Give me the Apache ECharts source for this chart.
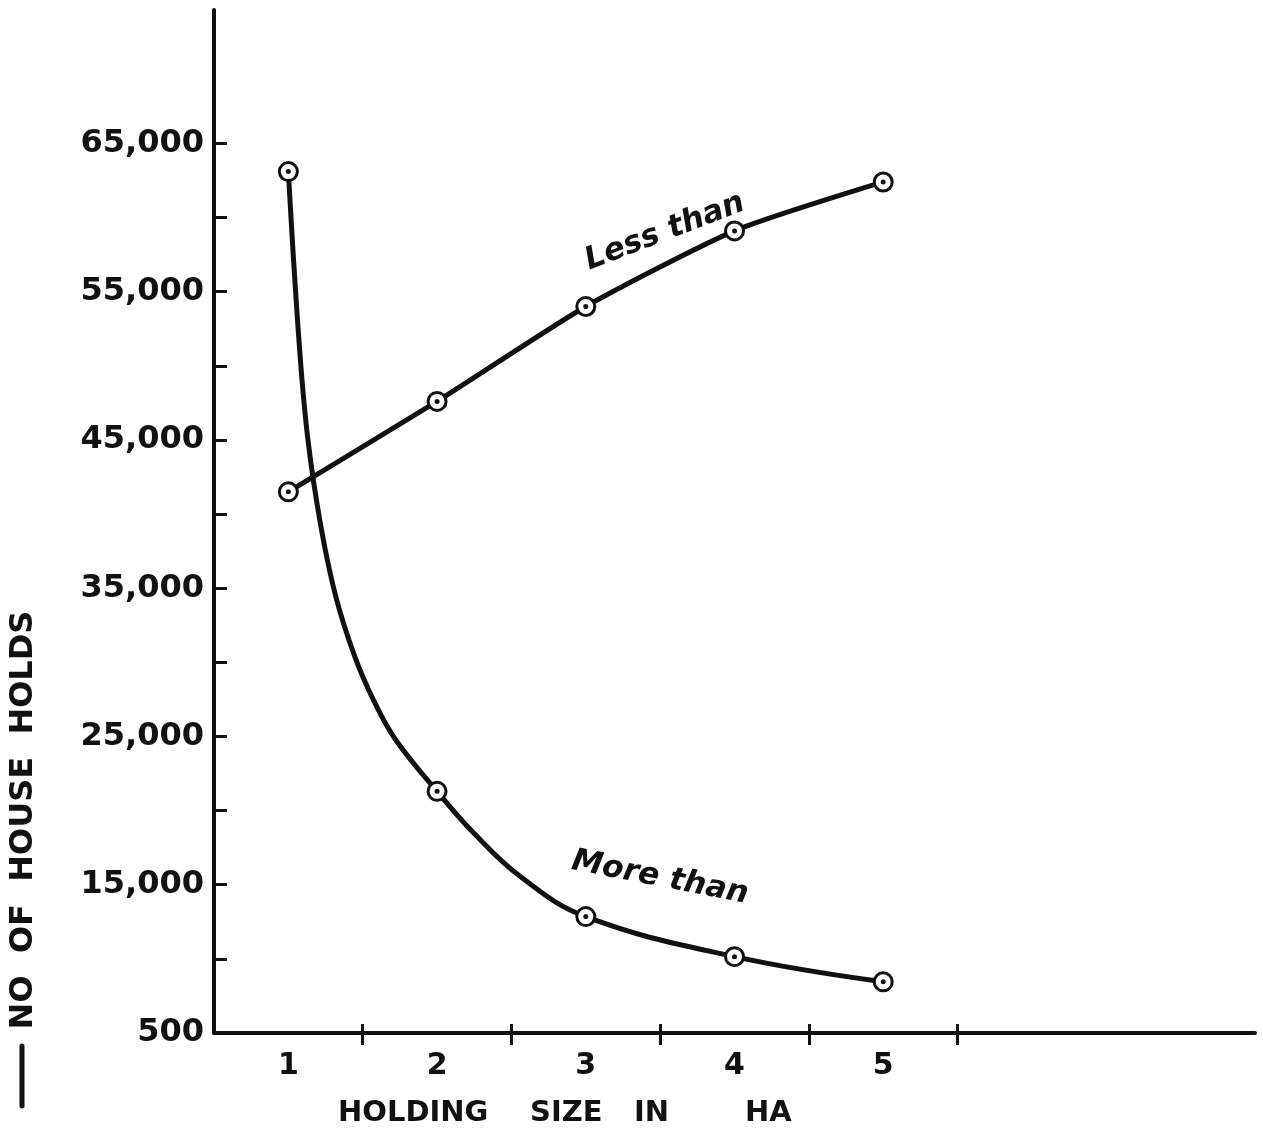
<!DOCTYPE html>
<html><head><meta charset="utf-8">
<script src="https://cdn.jsdelivr.net/npm/echarts@6/dist/echarts.min.js"></script>
<style>html,body{margin:0;padding:0;background:#fff}#chart{width:1263px;height:1141px}</style>
</head><body><div id="chart"></div>
<script>
// ---- data ----
const holdingSizes = [1, 2, 3, 4, 5];
const lessThan = [41500, 47600, 54000, 59100, 62400];
const moreThan = [63100, 21300, 12850, 10150, 8450];
// points read along the hand-drawn "More than" curve between its markers
const moreThanTraceX = [1.07, 1.13, 1.22, 1.32, 1.45, 1.58, 1.72, 2.25, 2.56];
const moreThanTraceY = [51900, 45150, 39100, 34400, 30300, 27300, 24800, 18450, 15550];
const yLabelValues = [5000, 15000, 25000, 35000, 45000, 55000, 65000];
const yLabelTexts = ['500', '15,000', '25,000', '35,000', '45,000', '55,000', '65,000'];
const yTickValues = [5000, 10000, 15000, 20000, 25000, 30000, 35000, 40000, 45000, 50000, 55000, 60000, 65000];
const xTickValues = [1.5, 2.5, 3.5, 4.5, 5.5];
const xLabelValues = holdingSizes;
const seriesNames = ['Less than', 'More than'];
const xAxisTitleWords = ['HOLDING', 'SIZE', 'IN', 'HA'];
const yAxisTitle = 'NO  OF  HOUSE  HOLDS';

const INK = '#111';
const lessData = holdingSizes.map((x, i) => [x, lessThan[i]]);
const moreData = holdingSizes.map((x, i) => [x, moreThan[i]]);
const moreCurve = moreData.concat(moreThanTraceX.map((x, i) => [x, moreThanTraceY[i]]))
  .sort((a, b) => a[0] - b[0]);

const chart = echarts.init(document.getElementById('chart'), null, {renderer: 'canvas'});
const markerStyle = {color: '#fff', borderColor: INK, borderWidth: 3, opacity: 1};
const baseX = {
  type: 'value', min: 0.5, max: 7.5, position: 'bottom',
  axisLine: {onZero: false},
  splitLine: {show: false}
};
const titleWordX = [338, 530, 634, 745];
const titleFont = {fontFamily: 'DejaVu Sans', fontWeight: 'bold', fontSize: 29, fill: INK};
chart.setOption({
  backgroundColor: '#fff',
  animation: false,
  grid: {left: 214, top: 10, right: 8, bottom: 108, containLabel: false},
  xAxis: [
    Object.assign({}, baseX, {
      axisLine: {show: true, onZero: false, lineStyle: {color: INK, width: 4}},
      axisTick: {show: true, length: 12, customValues: xTickValues, lineStyle: {color: INK, width: 3}},
      axisLabel: {show: true, customValues: xLabelValues, margin: 18, color: INK,
        fontFamily: 'DejaVu Sans', fontWeight: 'bold', fontSize: 30}
    }),
    Object.assign({}, baseX, {
      axisLine: {show: false, onZero: false},
      axisTick: {show: true, inside: true, length: 9, customValues: xTickValues, lineStyle: {color: INK, width: 3}},
      axisLabel: {show: false}
    })
  ],
  yAxis: {
    type: 'value', min: 5000, max: 74000,
    axisLine: {show: true, lineStyle: {color: INK, width: 4}},
    axisTick: {show: true, inside: true, length: 13, customValues: yTickValues, lineStyle: {color: INK, width: 3}},
    axisLabel: {show: true, customValues: yLabelValues, margin: 10, color: INK,
      fontFamily: 'DejaVu Sans', fontWeight: 'bold', fontSize: 32,
      formatter: v => yLabelTexts[yLabelValues.indexOf(v)]},
    splitLine: {show: false}
  },
  series: [
    {
      name: seriesNames[0], type: 'line', data: lessData, smooth: 0.2,
      symbol: 'circle', symbolSize: 18, itemStyle: markerStyle,
      lineStyle: {color: INK, width: 5}, z: 3
    },
    {
      name: seriesNames[1] + ' curve', type: 'line', data: moreCurve, smooth: 0.4,
      showSymbol: false, symbol: 'none',
      lineStyle: {color: INK, width: 5}, z: 3
    },
    {
      name: seriesNames[1], type: 'scatter', data: moreData,
      symbol: 'circle', symbolSize: 18, itemStyle: markerStyle, z: 4
    },
    {
      name: 'centres', type: 'scatter', data: lessData.concat(moreData),
      symbol: 'circle', symbolSize: 5, itemStyle: {color: INK, opacity: 1}, z: 5
    }
  ],
  graphic: [
    {type: 'text', x: 24, y: 820, rotation: Math.PI / 2,
      style: {text: yAxisTitle, fontFamily: 'DejaVu Sans', fontWeight: 'bold', fontSize: 32,
        fill: INK, align: 'center', verticalAlign: 'middle'}},
    {type: 'line', shape: {x1: 22, y1: 1046, x2: 22, y2: 1106},
      style: {stroke: INK, lineWidth: 5, lineCap: 'round'}}
  ].concat(xAxisTitleWords.map((w, i) => ({
    type: 'text', x: titleWordX[i], y: 1113,
    style: Object.assign({text: w, align: 'left', verticalAlign: 'middle'}, titleFont)
  }))).concat([
    {type: 'text', x: 665, y: 232, rotation: 21 * Math.PI / 180,
      style: {text: seriesNames[0], fontFamily: 'DejaVu Sans', fontStyle: 'italic', fontWeight: 'bold',
        fontSize: 31, fill: INK, align: 'center', verticalAlign: 'middle'}},
    {type: 'text', x: 660, y: 878, rotation: -11 * Math.PI / 180,
      style: {text: seriesNames[1], fontFamily: 'DejaVu Sans', fontStyle: 'italic', fontWeight: 'bold',
        fontSize: 31, fill: INK, align: 'center', verticalAlign: 'middle'}}
  ])
});
</script>
</body></html>
